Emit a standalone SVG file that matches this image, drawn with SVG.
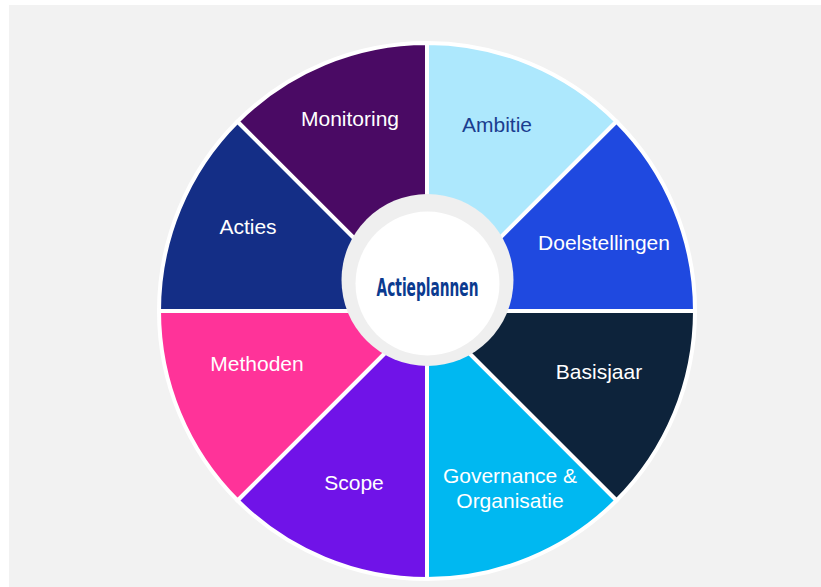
<svg xmlns="http://www.w3.org/2000/svg" width="821" height="587" viewBox="0 0 821 587">
<style>
.seg{stroke:#ffffff;stroke-width:4;stroke-linejoin:miter}
.lbl{font-family:"Liberation Sans",Arial,sans-serif;font-size:21px;fill:#ffffff;text-anchor:middle}
.dark{fill:#1b3d8f}
.hub{font-family:"DejaVu Sans Condensed","DejaVu Sans",sans-serif;font-weight:bold;font-size:24px;fill:#0b3a8f;text-anchor:middle}
</style>
<rect x="0" y="0" width="821" height="587" fill="#ffffff"/>
<rect x="9" y="5" width="812" height="582" fill="#f2f2f2"/>
<g id="segments">
<g id="ambitie"><path class="seg" fill="#ade8fd" d="M427,311 L427,43 A268,268 0 0 1 616.5,121.5 Z"/><text class="lbl dark" x="497" y="131.5">Ambitie</text></g>
<g id="doelstellingen"><path class="seg" fill="#1f49e0" d="M427,311 L616.5,121.5 A268,268 0 0 1 695,311 Z"/><text class="lbl" x="604" y="249.5">Doelstellingen</text></g>
<g id="basisjaar"><path class="seg" fill="#0d233b" d="M427,311 L695,311 A268,268 0 0 1 616.5,500.5 Z"/><text class="lbl" x="599" y="378.5">Basisjaar</text></g>
<g id="governance"><path class="seg" fill="#00b8f1" d="M427,311 L616.5,500.5 A268,268 0 0 1 427,579 Z"/><text class="lbl" x="510" y="483"><tspan x="510" y="483">Governance &amp;</tspan><tspan x="510" y="508">Organisatie</tspan></text></g>
<g id="scope"><path class="seg" fill="#7013e8" d="M427,311 L427,579 A268,268 0 0 1 237.5,500.5 Z"/><text class="lbl" x="354" y="489.5">Scope</text></g>
<g id="methoden"><path class="seg" fill="#ff3399" d="M427,311 L237.5,500.5 A268,268 0 0 1 159,311 Z"/><text class="lbl" x="257" y="370.5">Methoden</text></g>
<g id="acties"><path class="seg" fill="#142e86" d="M427,311 L159,311 A268,268 0 0 1 237.5,121.5 Z"/><text class="lbl" x="248" y="233.5">Acties</text></g>
<g id="monitoring"><path class="seg" fill="#4a0a64" d="M427,311 L237.5,121.5 A268,268 0 0 1 427,43 Z"/><text class="lbl" x="350" y="125.5">Monitoring</text></g>
</g>
<g id="hub">
<circle cx="427.5" cy="280" r="86" fill="#efefef"/>
<circle cx="427.5" cy="283.5" r="72" fill="#ffffff"/>
<text class="hub" x="427.5" y="296" textLength="102" lengthAdjust="spacingAndGlyphs">Actieplannen</text>
</g>
</svg>
